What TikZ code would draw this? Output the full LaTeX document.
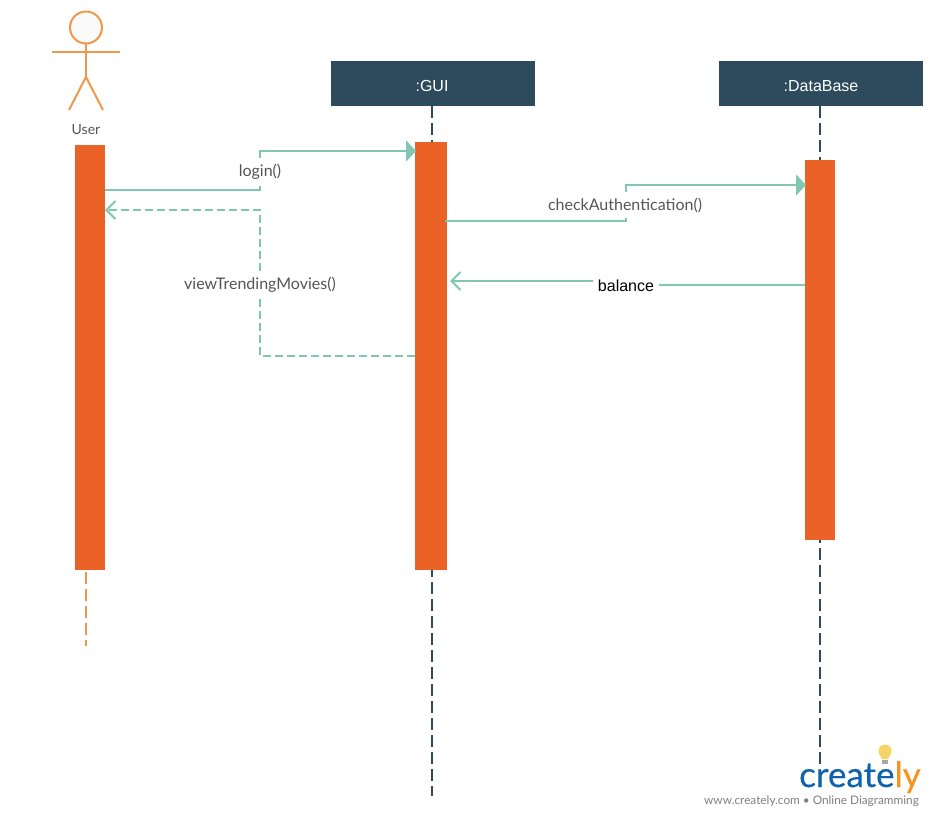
\documentclass[tikz,border=0pt]{standalone}
\usepackage{fontspec}
\setmainfont{Lato}
\newfontfamily\boxfont{Liberation Sans}
\newfontfamily\logofont[FakeBold=0.3]{Lato}
\usetikzlibrary{arrows.meta}
\definecolor{barorange}{HTML}{EB6227}
\definecolor{headblue}{HTML}{2D4B5C}
\definecolor{msgteal}{HTML}{7FC7B3}
\definecolor{actorline}{HTML}{F0984A}
\definecolor{labelgray}{HTML}{555555}
\definecolor{logoblue}{HTML}{0F62AC}
\definecolor{logoorange}{HTML}{F7931E}
\definecolor{bulbyellow}{HTML}{F6D365}
\tikzset{
  headbox/.style={fill=headblue, minimum width=204pt, minimum height=45pt, inner sep=0pt, text=white, text height=15pt, text depth=0pt, font=\boxfont\fontsize{16}{18}\selectfont},
  actbar/.style={fill=barorange, inner sep=0pt},
  lifeline/.style={headblue, line width=2pt, dash pattern=on 12pt off 5pt},
  msgline/.style={msgteal, line width=2pt},
  msgdash/.style={msgteal, line width=2pt, dash pattern=on 8pt off 4pt},
  solidtip/.style={-{Triangle[length=10pt,width=21pt]}},
  opentip/.style={-{Straight Barb[length=9pt,width=18pt,line width=2pt]}},
  msglabel/.style={fill=white, inner xsep=2pt, inner ysep=6pt, text=labelgray, font=\fontsize{16}{18}\selectfont},
}
\begin{document}
\begin{tikzpicture}[x=1pt,y=-1pt]
  \useasboundingbox (0,0) rectangle (933,816);

  % Header boxes
  \node[headbox] (gui) at (433,83.5) {\hspace{-2pt}:GUI};
  \node[headbox] (db) at (821,83.5) {:DataBase};

  % Actor
  \node[circle, draw=actorline, line width=2pt, fill=black!2, minimum size=32pt, inner sep=0pt] (head) at (86,27.5) {};
  \coordinate (armL) at (52,52);
  \coordinate (armR) at (120,52);
  \coordinate (hip) at (86,77);
  \coordinate (footL) at (69,110);
  \coordinate (footR) at (103,110);
  \draw[actorline, line width=2pt] (armL) -- (armR);
  \draw[actorline, line width=2pt] (head) -- (hip);
  \draw[actorline, line width=2pt] (footL) -- (hip) -- (footR);
  \node[text=labelgray, font=\fontsize{14}{16}\selectfont] (user) at (86,129.5) {User};

  % Lifelines
  \coordinate (guiEnd) at (432,796);
  \coordinate (dbEnd) at (820,768);
  \coordinate (userTop) at (86,572);
  \coordinate (userEnd) at (86,646);
  \draw[lifeline] (432,106) -- (guiEnd);
  \draw[lifeline] (820,106) -- (dbEnd);
  \draw[actorline, line width=2pt, dash pattern=on 12pt off 5pt] (userTop) -- (userEnd);

  % Activation bars
  \node[actbar, minimum width=30pt, minimum height=425pt] (userbar) at (90,357.5) {};
  \node[actbar, minimum width=32pt, minimum height=428pt] (guibar) at (431,356) {};
  \node[actbar, minimum width=30pt, minimum height=380pt] (dbbar) at (820,350) {};

  % Message corners
  \coordinate (loginA) at (105,190);
  \coordinate (loginB) at (260,190);
  \coordinate (loginC) at (260,151);
  \coordinate (loginD) at (416,151);
  \coordinate (viewA) at (415,356);
  \coordinate (viewB) at (260,356);
  \coordinate (viewC) at (260,210);
  \coordinate (viewD) at (105,210);
  \coordinate (checkA) at (445,221);
  \coordinate (checkB) at (626,221);
  \coordinate (checkC) at (626,185);
  \coordinate (checkD) at (806,185);
  \coordinate (balA) at (805,285);
  \coordinate (balB) at (626,285);
  \coordinate (balC) at (626,281);
  \coordinate (balD) at (450,281);

  % Messages
  \draw[msgline, solidtip] (loginA) -- (loginB) -- (loginC) -- (loginD);
  \draw[msgdash, opentip] (viewA) -- (viewB) -- (viewC) -- (viewD);
  \draw[msgline, solidtip] (checkA) -- (checkB) -- (checkC) -- (checkD);
  \draw[msgline, opentip] (balA) -- (balB) -- (balC) -- (balD);

  % Message labels
  \node[msglabel] (login) at (260,172) {login()};
  \node[msglabel] (view) at (260,285) {viewTrendingMovies()};
  \node[msglabel] (check) at (625,205) {checkAuthentication()};
  \node[fill=white, inner xsep=5pt, inner ysep=2pt, text=black, font=\boxfont\fontsize{16}{18}\selectfont] (balance) at (626,285.5) {balance};

  % Logo
  \fill[bulbyellow] (881.5,759) .. controls (881,755) and (878.5,755) .. (878.5,751) .. controls (878.5,742.5) and (891.5,742.5) .. (891.5,751) .. controls (891.5,755) and (889,755) .. (888.5,759) -- cycle;
  \fill[black!35] (882,760) rectangle (888,764);
  \node[inner sep=0pt, anchor=base east, font=\logofont\fontsize{35}{40}\selectfont] (logo) at (921,787) {\textcolor{logoblue}{create}\textcolor{logoorange}{ly}};
  \node[inner sep=0pt, anchor=base east, text=black!50, font=\fontsize{11.8}{14}\selectfont] (site) at (919,804) {www.creately.com • Online Diagramming};
\end{tikzpicture}
\end{document}
